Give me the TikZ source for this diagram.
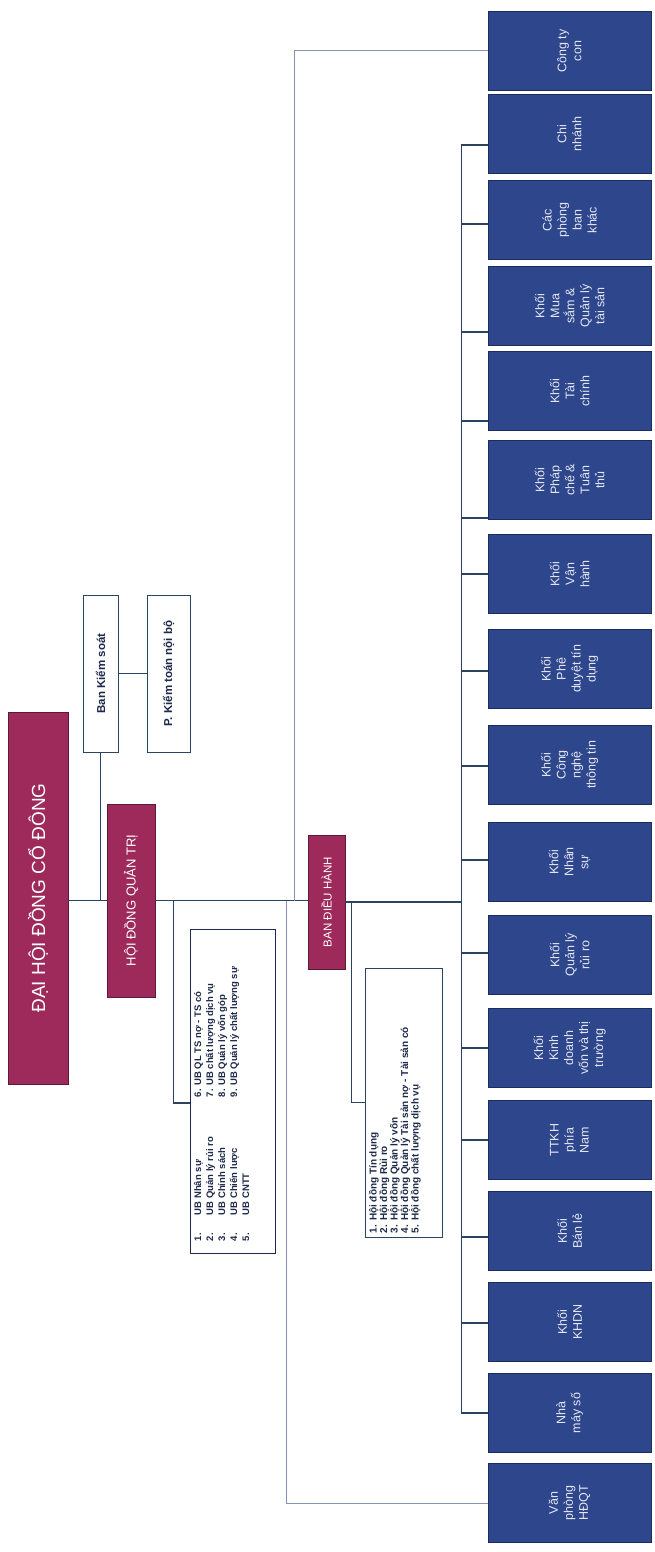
\documentclass[tikz,border=0pt]{standalone}
\usepackage{fontspec}
\setmainfont{Liberation Sans}
\setsansfont{Liberation Sans}
\usepackage{tikz}
\usetikzlibrary{positioning,calc}
\definecolor{ink}      {HTML}{1E2A4A}
\definecolor{wine}     {HTML}{9E2A5C}
\definecolor{winedark} {HTML}{5E1838}
\definecolor{navy}     {HTML}{2E468C}
\definecolor{navydark} {HTML}{1B2B5E}
\definecolor{wire}     {HTML}{2A4462}
\definecolor{wirelight}{HTML}{8593B5}
\definecolor{paleink}  {HTML}{E4E7F2}
\tikzset{
  % --- boxes (all text runs bottom to top)
  head/.style = {rotate=90, fill=wine, draw=winedark, line width=0.8pt,
                 text=white, inner sep=0pt, align=center},
  side/.style = {rotate=90, fill=white, draw=wire, line width=1pt, inner sep=0pt,
                 text=ink, font=\fontsize{11.5}{13}\selectfont\bfseries},
  lst/.style  = {rotate=90, fill=white, draw=ink, line width=0.8pt, inner sep=4pt,
                 text=ink},
  unit/.style = {rotate=90, fill=navy, draw=navydark, line width=0.8pt, text=paleink,
                 inner sep=0pt, align=center, minimum width=79pt, minimum height=163pt,
                 font=\fontsize{12.5}{15}\selectfont},
  % --- edges
  link/.style      = {draw=wire, line width=1.2pt},
  linklight/.style = {draw=wirelight, line width=1pt},
}

\begin{document}
\begin{tikzpicture}[x=1pt,y=-1pt]
  \useasboundingbox (0,0) rectangle (654,1552);

  % --- top levels
  \node[head, minimum width=372pt, minimum height=60pt, font=\fontsize{19}{22}\selectfont]
    (dhcd) at (38,898) {ĐẠI HỘI ĐỒNG CỔ ĐÔNG};
  \node[head, minimum width=193pt, minimum height=48pt, font=\fontsize{13}{15}\selectfont]
    (hdqt) at (131,900.5) {HỘI ĐỒNG QUẢN TRỊ};
  \node[head, minimum width=134pt, minimum height=37pt, font=\fontsize{11.5}{13}\selectfont]
    (bdh) at (326.5,902) {BAN ĐIỀU HÀNH};
  \node[side, minimum width=157pt, minimum height=35pt] (bks) at (100.5,673.5) {Ban Kiểm soát};
  \node[side, minimum width=157pt, minimum height=43pt] (pkt) at (168.5,673.5) {P. Kiểm toán nội bộ};

  % --- committee lists
  \node[lst, minimum width=324pt, minimum height=85pt] (ubq) at (232.5,1091)
    {\parbox[c][77pt][t]{316pt}{\fontsize{9.5}{12}\selectfont\bfseries
      \hspace*{8pt}%
      \parbox[t]{144pt}{\makebox[26pt][l]{1.}UB Nhân sự\\
                        \makebox[26pt][l]{2.}UB Quản lý rủi ro\\
                        \makebox[26pt][l]{3.}UB Chính sách\\
                        \makebox[26pt][l]{4.}UB Chiến lược\\
                        \makebox[26pt][l]{5.}UB CNTT}%
      \parbox[t]{160pt}{6. UB QL TS nợ - TS có\\
                        7. UB chất lượng dịch vụ\\
                        8. UB Quản lý vốn góp\\
                        9. UB Quản lý chất lượng sự}}};
  \node[lst, draw=wire, minimum width=269pt, minimum height=77pt] (hdl) at (403.5,1102.5)
    {\parbox[c][69pt][t]{261pt}{\fontsize{10}{10.5}\selectfont\bfseries
      1. Hội đồng Tín dụng\\
      2. Hội đồng Rủi ro\\
      3. Hội đồng Quản lý vốn\\
      4. Hội đồng Quản lý Tài sản nợ - Tài sản có\\
      5. Hội đồng chất lượng dịch vụ}};

  % --- units
  \foreach \y/\off/\txt [count=\i] in {
      51/0/{Công ty\\con},
      134/11/{Chi\\nhánh},
      220/4/{Các\\phòng\\ban\\khác},
      306/26/{Khối\\Mua\\sắm \&\\Quản lý\\tài sản},
      391/30/{Khối\\Tài\\chính},
      480/38/{Khối\\Pháp\\chế \&\\Tuân\\thủ},
      574/0/{Khối\\Vận\\hành},
      669/2/{Khối\\Phê\\duyệt tín\\dụng},
      765/1/{Khối\\Công\\nghệ\\thông tin},
      862/-2/{Khối\\Nhân\\sự},
      955/-2/{Khối\\Quản lý\\rủi ro},
      1048/0/{Khối\\Kinh\\doanh\\vốn và thị\\trường},
      1140/0/{TTKH\\phía\\Nam},
      1231/6/{Khối\\Bán lẻ},
      1322/1/{Khối\\KHDN},
      1413/0/{Nhà\\máy số},
      1503/0/{Văn\\phòng\\HĐQT}} {
    \node[unit] (u\i) at (569.5,\y) {\txt};
    \coordinate (c\i) at ($(u\i.north)+(0,\off)$);
  }

  % --- connectors
  \draw[link] (dhcd.south |- hdqt.north) -- (hdqt.north);
  \draw[link] (bks.west) -- (bks.west |- hdqt.north);
  \draw[link] (bks.south) -- (pkt.north |- bks.south);
  \draw[link] (hdqt.south) -- (bdh.north |- hdqt.south);
  \draw[link] (hdqt.south) -- ++(18,0) |- ($(ubq.north)+(0,12)$);
  \path (hdqt.south) ++(131,0) coordinate (jdown) ++(8,0) coordinate (jup);
  \draw[linklight] (jup) |- (c1);
  \draw[linklight] (jdown) |- (c17);
  \draw[link] (bdh.south) -- ++(6,0) |- (hdl.north);
  \path (bdh.south) ++(116,0) coordinate (jspine);
  \draw[link] (bdh.south) -- (jspine);
  \draw[link] (jspine |- c2) -- (jspine |- c16);
  \foreach \i in {2,...,16}
    \draw[link] (jspine |- c\i) -- (c\i);
\end{tikzpicture}
\end{document}
